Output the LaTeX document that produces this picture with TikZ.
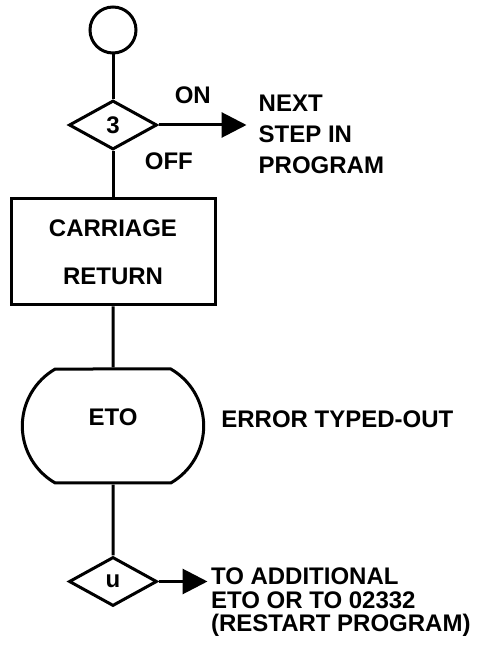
\documentclass[tikz,border=0pt]{standalone}
\usepackage{fontspec}
\setmainfont{Liberation Sans}
\usepackage{tikz}
\usetikzlibrary{positioning,arrows.meta,shapes.geometric,shapes.misc}
\tikzset{
  conn/.style={circle,draw,line width=3pt,minimum size=46pt,inner sep=0pt},
  test/.style={diamond,draw,line width=3pt,minimum width=88pt,minimum height=49pt,inner sep=0pt},
  proc/.style={rectangle,draw,line width=3pt,minimum width=204pt,minimum height=106pt,align=center,font=\bfseries\fontsize{24}{48}\selectfont},
  disp/.style={rounded rectangle,rounded rectangle arc length=120,draw,line width=3pt,minimum width=188pt,minimum height=114pt},
  note/.style={align=left},
  link/.style={line width=3pt},
  flowarrow/.style={-{Triangle[length=25pt,width=25pt]},line width=3pt}
}

\begin{document}
\begin{tikzpicture}[font=\bfseries\fontsize{24}{29}\selectfont]
  \useasboundingbox (0,0) rectangle (479pt,654pt);
  \node[conn] (start) at (113pt,624pt) {};
  \node[test,below=44.5pt of start] (sw3) {3};
  \node[proc,below=46.5pt of sw3] (cr) {CARRIAGE\\RETURN};
  \node[disp,below=61pt of cr] (eto) {\raisebox{9pt}[\height][\depth]{ETO}};
  \node[test,below=71pt of eto] (swu) {u};
  % notes on the right
  \node[note,right=88pt of sw3,yshift=-9pt,inner xsep=12pt,inner ysep=0pt,font=\bfseries\fontsize{24}{31}\selectfont] (next) {NEXT\\STEP IN\\PROGRAM};
  \node[note,right=12.7pt of eto,yshift=7pt] (etonote) {ERROR TYPED-OUT};
  \node[note,right=49pt of swu,yshift=-21pt,inner ysep=0pt,font=\bfseries\fontsize{24}{23.5}\selectfont] (restart) {TO ADDITIONAL\\ETO OR TO 02332\\(RESTART PROGRAM)};
  \draw[link] (start) -- (sw3);
  \draw[flowarrow] (sw3) -- node[pos=0.39,above=16pt] (on) {ON} (sw3 -| next.west);
  \draw[link] (sw3) -- node[pos=0.23,right=27pt] (off) {OFF} (cr);
  \draw[link] (cr) -- (eto);
  \draw[link] (eto) -- (swu);
  \draw[flowarrow] (swu) -- (swu -| restart.west);
\end{tikzpicture}
\end{document}
